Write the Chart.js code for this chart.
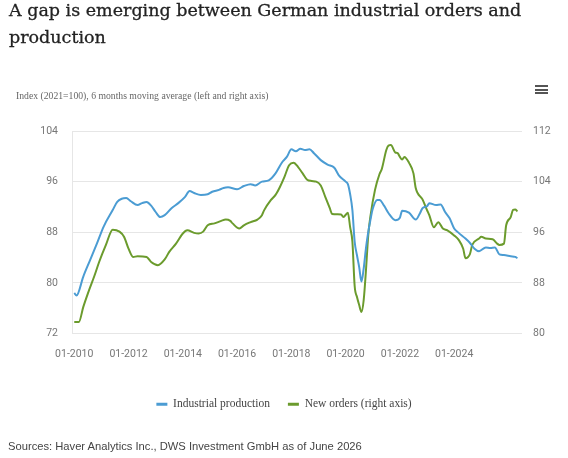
<!DOCTYPE html>
<html>
<head>
<meta charset="utf-8">
<title>German industrial orders and production</title>
<script src="https://cdn.jsdelivr.net/npm/chart.js@4.4.1/dist/chart.umd.min.js"></script>
<style>
  html, body { margin: 0; padding: 0; background: #fff; }
  #wrap { position: relative; width: 568px; height: 458px; overflow: hidden; }
  canvas { position: absolute; left: 0; top: 0; }
  #title { position: absolute; left: 9px; top: -3px; font-family: "DejaVu Serif", serif; font-size: 17.5px; line-height: 27px; color: #222; -webkit-text-stroke: 0.3px #222; white-space: nowrap; }
  #subtitle { position: absolute; left: 16px; top: 90px; font-family: "Liberation Serif", serif; font-size: 9.7px; color: #666; white-space: nowrap; }
  #menu { position: absolute; left: 535px; top: 85px; width: 13px; }
  #menu span { display: block; height: 2px; background: #555; margin-bottom: 1.5px; }
  #source { position: absolute; left: 8px; top: 440px; font-family: "Liberation Sans", sans-serif; font-size: 11.2px; color: #444; white-space: nowrap; }
</style>
</head>
<body>
<div id="wrap">
  <canvas id="gapChart" width="568" height="458"></canvas>
  <div id="title">A gap is emerging between German industrial orders and<br>production</div>
  <div id="subtitle">Index (2021=100), 6 months moving average (left and right axis)</div>
  <div id="menu"><span></span><span></span><span></span></div>
  <div id="source">Sources: Haver Analytics Inc., DWS Investment GmbH as of June 2026</div>
</div>
<script>
// industrial production (left axis)
var prodDates = ['2010-01','2010-02','2010-05','2010-08','2010-11','2011-02','2011-06','2011-08','2011-10','2011-12',
  '2012-02','2012-05','2012-07','2012-09','2012-11','2013-01','2013-03','2013-05','2013-08','2013-11',
  '2014-02','2014-04','2014-06','2014-09','2014-12','2015-02','2015-05','2015-07','2015-09','2016-01',
  '2016-04','2016-07','2016-09','2016-12','2017-03','2017-06','2017-09','2017-11','2018-01','2018-03',
  '2018-05','2018-07','2018-09','2018-11','2019-02','2019-05','2019-08','2019-10','2020-01','2020-02',
  '2020-03','2020-04','2020-05','2020-06','2020-07','2020-08','2020-09','2020-10','2020-11','2020-12',
  '2021-01','2021-03','2021-04','2021-06','2021-08','2021-11','2022-01','2022-02','2022-05','2022-08',
  '2022-10','2022-11','2023-01','2023-02','2023-05','2023-07','2023-09','2023-11','2024-01','2024-03',
  '2024-06','2024-08','2024-10','2024-12','2025-03','2025-05','2025-07','2025-09','2025-11','2026-02',
  '2026-04','2026-05'];
var prodValues = [78.4,78.0,81.0,83.6,86.2,88.9,91.5,92.8,93.3,93.4,
  92.9,92.3,92.6,92.8,92.2,91.2,90.4,90.7,91.8,92.6,
  93.6,94.5,94.2,93.9,94.0,94.4,94.7,95.0,95.1,94.8,
  95.3,95.6,95.4,96.0,96.2,97.3,99.1,99.9,101.1,100.8,
  101.2,101.0,101.1,100.5,99.4,98.7,98.2,97.0,96.0,95.6,
  94.0,91.5,86.5,84.4,82.5,80.2,82.3,85.5,88.0,90.0,
  91.7,93.1,93.1,92.2,91.0,89.9,90.3,91.4,91.1,90.0,
  91.1,91.8,92.1,92.6,92.3,92.4,91.2,90.2,88.6,87.9,
  87.0,86.3,85.4,85.0,85.6,85.5,85.6,84.5,84.4,84.2,
  84.1,83.9];

// new orders (right axis)
var orderDates = ['2010-01','2010-03','2010-05','2010-07','2010-10','2010-12','2011-03','2011-06','2011-09','2011-11',
  '2012-01','2012-03','2012-05','2012-09','2012-11','2013-02','2013-05','2013-07','2013-10','2014-01',
  '2014-03','2014-06','2014-08','2014-10','2014-12','2015-03','2015-06','2015-08','2015-10','2015-11',
  '2016-02','2016-04','2016-07','2016-10','2016-12','2017-01','2017-04','2017-06','2017-08','2017-10',
  '2017-12','2018-02','2018-04','2018-06','2018-08','2018-10','2018-12','2019-02','2019-04','2019-06',
  '2019-07','2019-11','2019-12','2020-02','2020-03','2020-04','2020-05','2020-06','2020-07','2020-08',
  '2020-09','2020-10','2020-11','2020-12','2021-02','2021-04','2021-05','2021-07','2021-08','2021-09',
  '2021-11','2021-12','2022-01','2022-02','2022-03','2022-05','2022-07','2022-08','2022-11','2023-01',
  '2023-02','2023-04','2023-06','2023-08','2023-10','2024-01','2024-03','2024-05','2024-06','2024-08',
  '2024-09','2024-12','2025-01','2025-03','2025-06','2025-08','2025-09','2025-11','2025-12','2026-02',
  '2026-03','2026-04','2026-05'];
var orderValues = [81.8,81.8,84.2,86.3,89.2,91.3,94.0,96.4,96.1,95.3,
  93.4,92.1,92.2,92.1,91.3,90.8,91.7,92.9,94.2,95.8,
  96.3,95.9,95.8,96.1,97.1,97.4,97.8,98.0,97.8,97.4,
  96.6,97.1,97.6,98.0,98.7,99.5,101.1,101.9,103.2,104.8,
  106.6,107.0,106.3,105.3,104.3,104.1,104.0,103.4,101.6,99.8,
  98.9,98.8,98.4,99.1,96.8,94.5,87.5,85.8,84.5,83.4,
  85.3,90.0,95.5,98.6,102.7,105.2,106.0,109.0,109.7,109.8,
  108.6,108.5,107.9,107.5,107.9,107.0,105.3,103.0,101.2,99.5,
  98.7,96.8,97.6,96.6,96.3,95.5,94.8,93.4,91.9,92.6,
  94.0,95.0,95.3,95.0,94.9,94.2,94.0,94.2,97.1,98.4,
  99.5,99.6,99.3];

var tickDates = ['2010-01','2012-01','2014-01','2016-01','2018-01','2020-01','2022-01','2024-01'];
var tickLabels = ['01-2010','01-2012','01-2014','01-2016','01-2018','01-2020','01-2022','01-2024'];
var leftTicks = [72, 80, 88, 96, 104];
var rightTicks = [80, 88, 96, 104, 112];

var blue = '#4b9cd3';
var green = '#6b9b2d';

// months since 01-2010
function monthIndex(d) {
  var p = d.split('-');
  return (parseInt(p[0], 10) - 2010) * 12 + parseInt(p[1], 10) - 1;
}
function points(dates, values) {
  return dates.map(function (d, i) { return { x: monthIndex(d), y: values[i] }; });
}
var tickMonths = tickDates.map(monthIndex);

var tickFont = { family: 'Roboto', size: 10.5 };

new Chart(document.getElementById('gapChart'), {
  type: 'line',
  data: {
    datasets: [{
      label: 'Industrial production',
      data: points(prodDates, prodValues),
      yAxisID: 'y',
      borderColor: blue,
      backgroundColor: blue,
      borderWidth: 2,
      pointRadius: 0,
      cubicInterpolationMode: 'monotone'
    }, {
      label: 'New orders (right axis)',
      data: points(orderDates, orderValues),
      yAxisID: 'y2',
      borderColor: green,
      backgroundColor: green,
      borderWidth: 2,
      pointRadius: 0,
      cubicInterpolationMode: 'monotone'
    }]
  },
  options: {
    responsive: false,
    animation: false,
    layout: { padding: { top: 131, left: 0, right: 0, bottom: 38 } },
    plugins: {
      tooltip: { enabled: false },
      legend: {
        position: 'bottom',
        labels: {
          boxWidth: 11,
          boxHeight: 3,
          padding: 18,
          color: '#444',
          font: { family: 'Liberation Serif', size: 11.5 },
          generateLabels: function (chart) {
            return Chart.defaults.plugins.legend.labels.generateLabels(chart).map(function (l) {
              l.lineWidth = 0;
              return l;
            });
          }
        }
      }
    },
    scales: {
      x: {
        type: 'linear',
        min: -1,
        max: 198,
        afterBuildTicks: function (scale) {
          scale.ticks = tickMonths.map(function (m) { return { value: m }; });
        },
        afterFit: function (scale) { scale.height = 47; },
        grid: { display: false },
        border: { display: false },
        ticks: {
          autoSkip: false,
          maxRotation: 0,
          padding: 7,
          color: '#777',
          font: tickFont,
          callback: function (v) {
            var i = tickMonths.indexOf(v);
            return i >= 0 ? tickLabels[i] : '';
          }
        }
      },
      y: {
        position: 'left',
        min: 72,
        max: 104,
        afterBuildTicks: function (scale) {
          scale.ticks = leftTicks.map(function (v) { return { value: v }; });
        },
        afterFit: function (scale) { scale.width = 72; },
        grid: { color: '#e6e6e6', drawTicks: false },
        border: { display: true, color: '#e6e6e6' },
        ticks: { padding: 14, color: '#777', font: tickFont }
      },
      y2: {
        position: 'right',
        min: 80,
        max: 112,
        afterBuildTicks: function (scale) {
          scale.ticks = rightTicks.map(function (v) { return { value: v }; });
        },
        afterFit: function (scale) { scale.width = 46; },
        grid: { drawOnChartArea: false, drawTicks: false },
        border: { display: false },
        ticks: { padding: 11, color: '#777', font: tickFont }
      }
    }
  }
});
</script>
</body>
</html>
